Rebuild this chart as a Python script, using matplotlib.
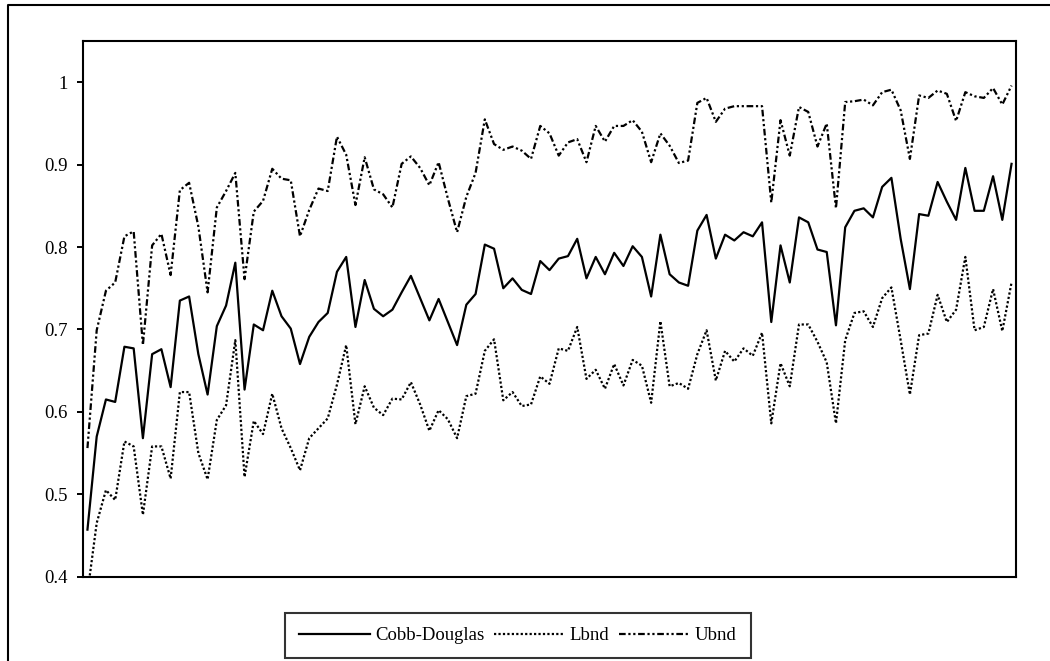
import matplotlib
matplotlib.use("Agg")
import matplotlib.pyplot as plt
from matplotlib.lines import Line2D

cobb_douglas = [
    0.457, 0.570, 0.615, 0.612, 0.679, 0.677, 0.568, 0.670, 0.676, 0.630,
    0.735, 0.740, 0.670, 0.621, 0.704, 0.729, 0.781, 0.627, 0.706, 0.699,
    0.747, 0.716, 0.701, 0.658, 0.691, 0.709, 0.720, 0.770, 0.788, 0.703,
    0.760, 0.725, 0.716, 0.724, 0.745, 0.765, 0.738, 0.711, 0.737, 0.709,
    0.681, 0.730, 0.743, 0.803, 0.798, 0.750, 0.762, 0.748, 0.743, 0.783,
    0.772, 0.786, 0.789, 0.810, 0.762, 0.788, 0.767, 0.793, 0.777, 0.801,
    0.788, 0.740, 0.815, 0.767, 0.757, 0.753, 0.820, 0.839, 0.786, 0.815,
    0.808, 0.818, 0.813, 0.830, 0.709, 0.802, 0.757, 0.836, 0.830, 0.797,
    0.794, 0.705, 0.824, 0.844, 0.847, 0.836, 0.873, 0.884, 0.810, 0.749,
    0.840, 0.838, 0.879, 0.855, 0.833, 0.896, 0.844, 0.844, 0.886, 0.833,
    0.901,
]

lbnd = [
    0.380, 0.465, 0.505, 0.493, 0.564, 0.558, 0.475, 0.558, 0.558, 0.519,
    0.624, 0.624, 0.550, 0.518, 0.590, 0.608, 0.687, 0.521, 0.589, 0.573,
    0.622, 0.580, 0.556, 0.529, 0.568, 0.580, 0.592, 0.633, 0.681, 0.585,
    0.631, 0.605, 0.596, 0.616, 0.615, 0.636, 0.609, 0.577, 0.602, 0.591,
    0.568, 0.619, 0.622, 0.674, 0.688, 0.614, 0.624, 0.607, 0.609, 0.643,
    0.634, 0.677, 0.674, 0.703, 0.640, 0.651, 0.628, 0.658, 0.632, 0.663,
    0.656, 0.611, 0.710, 0.631, 0.635, 0.628, 0.670, 0.699, 0.638, 0.674,
    0.661, 0.677, 0.668, 0.696, 0.586, 0.659, 0.631, 0.706, 0.706, 0.685,
    0.660, 0.586, 0.687, 0.720, 0.722, 0.703, 0.738, 0.751, 0.687, 0.621,
    0.693, 0.695, 0.742, 0.709, 0.724, 0.788, 0.699, 0.703, 0.749, 0.698,
    0.757,
]

ubnd = [
    0.556, 0.699, 0.747, 0.757, 0.813, 0.819, 0.681, 0.802, 0.816, 0.766,
    0.869, 0.878, 0.825, 0.745, 0.848, 0.868, 0.890, 0.761, 0.843, 0.856,
    0.895, 0.883, 0.881, 0.813, 0.845, 0.871, 0.868, 0.934, 0.912, 0.851,
    0.909, 0.870, 0.864, 0.848, 0.901, 0.910, 0.896, 0.875, 0.903, 0.859,
    0.818, 0.861, 0.890, 0.955, 0.925, 0.918, 0.922, 0.917, 0.907, 0.947,
    0.938, 0.911, 0.927, 0.931, 0.903, 0.947, 0.928, 0.947, 0.947, 0.954,
    0.940, 0.903, 0.938, 0.923, 0.902, 0.905, 0.975, 0.981, 0.952, 0.968,
    0.971, 0.971, 0.971, 0.971, 0.854, 0.954, 0.911, 0.970, 0.964, 0.922,
    0.950, 0.847, 0.976, 0.977, 0.979, 0.972, 0.988, 0.991, 0.966, 0.907,
    0.984, 0.981, 0.990, 0.986, 0.953, 0.988, 0.983, 0.981, 0.993, 0.973,
    0.996,
]

series_names = ["Cobb-Douglas", "Lbnd", "Ubnd"]
y_ticks = [0.4, 0.5, 0.6, 0.7, 0.8, 0.9, 1.0]
y_tick_labels = ["0.4", "0.5", "0.6", "0.7", "0.8", "0.9", "1"]

W, H = 1050, 661
fig = plt.figure(figsize=(W / 100, H / 100), dpi=100)
fig.patch.set_facecolor("white")

left, right, top, bottom = 83.3, 1015.7, 41.0, 576.6
ax = fig.add_axes([left / W, 1 - bottom / H, (right - left) / W, (bottom - top) / H])

x = list(range(len(cobb_douglas)))
lw = 1.6
ax.plot(x, cobb_douglas, color="black", lw=lw, linestyle="-", label=series_names[0])
ax.plot(x, lbnd, color="black", lw=lw, linestyle=(0, (1, 1)), label=series_names[1])
ax.plot(x, ubnd, color="black", lw=lw, linestyle=(0, (3, 1.2, 1, 1.2, 1, 1.2)),
        label=series_names[2])

ax.set_xlim(-0.45, len(x) - 1 + 0.45)
ax.set_ylim(0.4, 1.0501)
ax.set_yticks(y_ticks)
ax.set_yticklabels(y_tick_labels, family="Liberation Serif", fontsize=13.5)
ax.set_xticks([])
ax.tick_params(axis="y", direction="out", length=4.3, width=1.4, pad=7, color="black")
for s in ax.spines.values():
    s.set_linewidth(1.5)
    s.set_color("black")

# outer chart-area frame (left and top edges visible)
fig.add_artist(Line2D([8 / W, 8 / W, 1.0], [0.0, 1 - 5 / H, 1 - 5 / H],
                      transform=fig.transFigure, color="black", lw=1.5))

leg = ax.legend(loc="center", bbox_to_anchor=(518 / W, 1 - 635.5 / H),
                bbox_transform=fig.transFigure, ncol=3, frameon=True,
                fancybox=False, shadow=False, handlelength=3.75,
                handletextpad=0.3, columnspacing=0.5, borderpad=0.75,
                borderaxespad=0,
                prop={"family": "Liberation Serif", "size": 13.5})
leg.get_frame().set_edgecolor("black")
leg.get_frame().set_linewidth(1.5)

fig.savefig("out.png", dpi=100, facecolor="white")
